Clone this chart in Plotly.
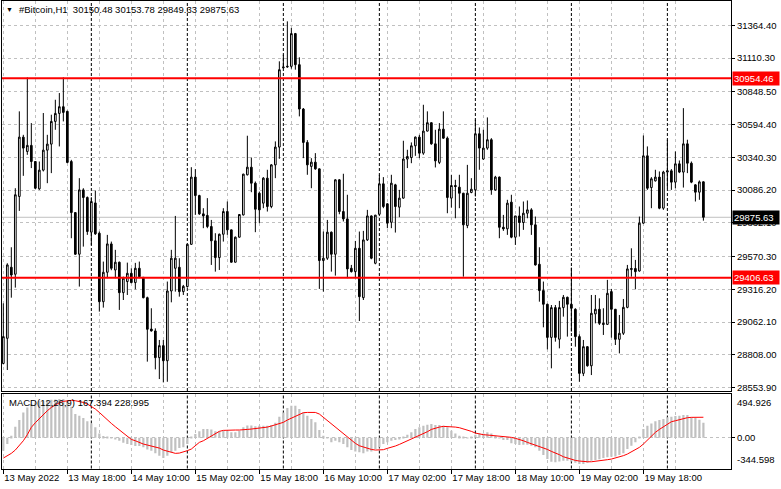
import plotly.graph_objects as go
import pandas as pd

symbol = "#Bitcoin,H1"
first_bar = "2022-05-13 02:00"

opens = [28742, 28937, 29488, 29434, 30037, 30497, 30386, 30433, 30308, 30096,
         30241, 30396, 30443, 30619, 30681, 30733, 30697, 30308, 29912, 29589,
         30088, 30029, 29760, 29987, 29752, 29221, 29449, 29669, 29467, 29527,
         29291, 29377, 29441, 29369, 29480, 29410, 29252, 29009, 28994, 28787,
         28880, 28763, 29304, 29480, 29488, 29299, 29338, 29666, 30187, 30044,
         29902, 29890, 29804, 29693, 29563, 29744, 29920, 29778, 29527, 29721,
         29894, 30205, 30264, 30140, 30062, 29985, 30179, 29959, 30282, 30420,
         31035, 31041, 31046, 31300, 31059, 30715, 30456, 30270, 30303, 30251,
         29540, 29558, 29760, 29589, 30166, 29920, 29863, 29480, 29454, 29635,
         29252, 29700, 29886, 29519, 29899, 30135, 29980, 29837, 30127, 29954,
         30024, 30327, 30339, 30430, 30497, 30373, 30544, 30609, 30445, 30301,
         30559, 30489, 30024, 30122, 30109, 30062, 29811, 30068, 30088, 30523,
         30327, 30412, 30477, 30088, 30187, 29798, 29786, 29993, 29721, 29886,
         29835, 29907, 29933, 29817, 29511, 29307, 29201, 28944, 29175, 28930,
         29175, 29255, 29201, 29162, 28950, 28665, 28872, 28724, 29126, 29162,
         29053, 29045, 29299, 29162, 28929, 28976, 29177, 29470, 29478, 29459,
         29830, 30352, 30106, 30158, 30187, 29946, 30226, 30236, 30148, 30290,
         30226, 30445, 30295, 30127, 30070, 30150.48]
highs = [29208, 29519, 29643, 30101, 30697, 30515, 30960, 30606, 30310, 30308,
         30684, 30515, 30671, 30787, 30839, 30960, 30702, 30321, 29915, 30179,
         30101, 30037, 30031, 30083, 29765, 29532, 29739, 29687, 29623, 29532,
         29415, 29524, 29480, 29522, 29532, 29412, 29260, 29170, 29014, 28924,
         28924, 29377, 29623, 29886, 29558, 29351, 29669, 30264, 30249, 30050,
         29946, 30024, 29855, 29752, 29749, 29946, 29998, 29780, 29726, 29899,
         30213, 30508, 30339, 30153, 30075, 30187, 30244, 30288, 30464, 31085,
         31136, 31395, 31344, 31305, 31116, 30723, 30474, 30334, 30373, 30254,
         29765, 29855, 29765, 30171, 30171, 30213, 30050, 29506, 29692, 29765,
         29770, 29933, 29890, 29894, 30205, 30187, 29985, 30205, 30135, 30088,
         30469, 30399, 30456, 30502, 30515, 30748, 30697, 30612, 30554, 30606,
         30697, 30502, 30205, 30166, 30205, 30065, 30282, 30179, 30632, 30572,
         30554, 30650, 30489, 30197, 30192, 29894, 30011, 30050, 29886, 29959,
         29998, 30006, 29946, 29881, 29643, 29377, 29205, 29195, 29195, 29227,
         29273, 29260, 29485, 29170, 28968, 28924, 28875, 29273, 29273, 29247,
         29170, 29390, 29320, 29165, 29118, 29242, 29506, 29635, 29545, 29881,
         30510, 30425, 30187, 30244, 30231, 30236, 30477, 30249, 30386, 30316,
         30722, 30477, 30308, 30132, 30161, 30153.78]
lows = [28735, 28691, 29252, 29330, 29925, 30197, 30360, 30257, 30096, 30088,
        30231, 30140, 30218, 30554, 30425, 30619, 30295, 29713, 29584, 29338,
        29648, 29739, 29661, 29739, 29144, 29175, 29403, 29465, 29403, 29157,
        29234, 29273, 29364, 29317, 29403, 29247, 28756, 28989, 28696, 28621,
        28595, 28600, 29216, 29299, 29260, 29273, 29330, 29661, 29894, 29894,
        29791, 29791, 29506, 29454, 29467, 29687, 29739, 29525, 29525, 29718,
        29889, 30200, 30070, 29760, 29830, 29946, 29920, 29946, 30179, 30329,
        31030, 31035, 31028, 31020, 30658, 30334, 30205, 30101, 30244, 29320,
        29299, 29545, 29454, 29423, 29899, 29843, 29403, 29447, 29403, 29071,
        29234, 29692, 29550, 29511, 29894, 29946, 29791, 29791, 29757, 29876,
        30020, 30257, 30295, 30352, 30334, 30360, 30541, 30438, 30262, 30288,
        30484, 29907, 29951, 29868, 29946, 29415, 29791, 30062, 30037, 30244,
        30321, 30399, 30050, 30081, 29713, 29770, 29739, 29713, 29661, 29726,
        29778, 29868, 29739, 29501, 29221, 29022, 28851, 28704, 28911, 28859,
        29105, 28950, 28989, 28872, 28600, 28644, 28717, 28652, 29053, 29040,
        28963, 29040, 28942, 28885, 28820, 28963, 29170, 29415, 29317, 29454,
        29825, 30088, 29946, 30153, 29938, 29933, 30101, 30088, 30101, 30218,
        30106, 30218, 30140, 29998, 30011, 29849.33]
closes = [28950, 29506, 29428, 30050, 30497, 30412, 30433, 30308, 30101, 30241,
          30396, 30443, 30619, 30681, 30733, 30689, 30301, 29912, 29589, 30088,
          30029, 29765, 29998, 29747, 29221, 29449, 29669, 29480, 29527, 29291,
          29403, 29441, 29369, 29480, 29415, 29252, 29007, 28994, 28787, 28880,
          28763, 29304, 29558, 29558, 29299, 29340, 29666, 30187, 30044, 29902,
          29886, 29804, 29693, 29563, 29744, 29920, 29778, 29527, 29721, 29897,
          30210, 30264, 30140, 29938, 29933, 30179, 29959, 30282, 30420, 31020,
          31041, 31046, 31300, 31059, 30715, 30456, 30282, 30303, 30251, 29540,
          29558, 29760, 29589, 30166, 29920, 29863, 29475, 29454, 29635, 29260,
          29700, 29886, 29558, 29892, 30135, 29959, 29830, 30140, 29959, 30024,
          30327, 30347, 30430, 30497, 30373, 30544, 30609, 30445, 30313, 30559,
          30489, 30029, 30122, 30114, 30062, 29817, 30062, 30093, 30523, 30412,
          30412, 30477, 30088, 30187, 29798, 29786, 29985, 29721, 29886, 29835,
          29907, 29933, 29817, 29506, 29307, 29201, 28944, 29175, 28944, 29175,
          29255, 29201, 29170, 28950, 28665, 28872, 28724, 29131, 29162, 29053,
          29045, 29286, 29162, 28929, 28976, 29177, 29475, 29478, 29454, 29830,
          30352, 30101, 30174, 30187, 29946, 30226, 30236, 30148, 30290, 30226,
          30445, 30295, 30148, 30070, 30150, 29875.63]

macd_main = [-145, -71, 22, 123, 198, 283, 339, 377, 395, 407,
             414, 421, 425, 429, 433, 433, 407, 347, 265, 246,
             220, 183, 160, 116, 48, 19, 11, -7, -19, -34,
             -56, -71, -82, -93, -93, -108, -131, -145, -175, -201,
             -228, -201, -164, -145, -116, -108, -71, 11, 41, 71,
             97, 97, 93, 71, 71, 78, 78, 60, 60, 78,
             116, 138, 138, 127, 134, 134, 134, 142, 168, 235,
             283, 332, 358, 358, 321, 283, 246, 209, 172, 86,
             22, -7, -52, -34, -52, -71, -108, -138, -153, -164,
             -175, -153, -153, -127, -108, -71, -52, -34, -26, -15,
             11, 34, 60, 97, 116, 134, 145, 153, 142, 142,
             134, 116, 78, 48, 22, 4, -7, 4, 34, 48,
             48, 60, 48, 22, -7, -26, -26, -63, -71, -82,
             -78, -78, -90, -108, -145, -194, -239, -269, -276, -265,
             -257, -257, -265, -280, -295, -295, -280, -257, -250, -242,
             -228, -220, -213, -209, -194, -175, -127, -90, -52, 4,
             97, 134, 160, 183, 198, 209, 228, 235, 242, 246,
             254, 254, 228, 220, 201, 167.394]
macd_signal = [-228, -205, -175, -138, -90, -34, 34, 116, 168, 216,
               265, 302, 339, 369, 392, 407, 414, 418, 414, 407,
               395, 377, 351, 321, 283, 239, 198, 160, 123, 90,
               48, 19, -19, -34, -56, -71, -82, -93, -101, -116,
               -138, -153, -168, -175, -172, -160, -145, -127, -90, -52,
               -34, -7, 19, 48, 71, 82, 86, 86, 86, 86,
               86, 93, 97, 101, 104, 112, 119, 131, 142, 157,
               172, 198, 220, 242, 265, 280, 283, 283, 283, 265,
               228, 190, 153, 116, 78, 41, 4, -34, -63, -90,
               -104, -119, -131, -138, -138, -134, -119, -108, -93, -75,
               -56, -37, -15, 4, 26, 48, 67, 93, 108, 119,
               127, 127, 127, 119, 112, 101, 86, 71, 52, 41,
               34, 30, 26, 22, 19, 15, 15, 4, -7, -19,
               -34, -52, -67, -78, -97, -108, -131, -153, -168, -190,
               -213, -228, -239, -254, -261, -269, -269, -269, -265, -261,
               -254, -246, -239, -228, -213, -201, -183, -160, -138, -108,
               -71, -26, 19, 60, 93, 123, 153, 179, 190, 201,
               216, 224, 228, 228, 224, 228.995]

time_labels = ["13 May 2022", "13 May 18:00", "14 May 10:00", "15 May 02:00",
               "15 May 18:00", "16 May 10:00", "17 May 02:00", "17 May 18:00",
               "18 May 10:00", "19 May 02:00", "19 May 18:00"]
price_ticks = [28553.90, 28808.00, 29062.10, 29316.20, 29570.30, 29832.10,
               30086.20, 30340.30, 30594.40, 30848.50, 31110.30, 31364.40]
levels = [30954.46, 29406.63]
macd_min, macd_max = -344.598, 494.926

# ---------------------------------------------------------------- layout geometry
W, H = 781, 489
def px(x):
    return x / W
def py(y):
    return 1 - y / H

times = pd.date_range(first_bar, periods=len(opens), freq="h")
hour = pd.Timedelta(hours=1)
x_range = [times[0] - 0.33 * hour, times[-1] + 6.9 * hour]
major = list(times[::16])
minor = list(times[8::16])
separators = [t for t in times if t.hour == 0]

GRID = "#c0c0c0"
FONT = "Liberation Sans, Arial, sans-serif"

fig = go.Figure()
fig.add_trace(go.Candlestick(
    x=times, open=opens, high=highs, low=lows, close=closes,
    increasing=dict(line=dict(color="black", width=1), fillcolor="white"),
    decreasing=dict(line=dict(color="black", width=1), fillcolor="black"),
    whiskerwidth=0, hoverinfo="skip", xaxis="x", yaxis="y"))
fig.add_trace(go.Bar(
    x=times, y=macd_main, width=0.55 * 3600 * 1000,
    marker=dict(color="#c0c0c0", line=dict(width=0)),
    hoverinfo="skip", xaxis="x2", yaxis="y2"))
fig.add_trace(go.Scatter(
    x=times, y=macd_signal, mode="lines",
    line=dict(color="red", width=1), hoverinfo="skip", xaxis="x2", yaxis="y2"))

xcommon = dict(
    domain=[px(2), px(731)], range=x_range, tickvals=major,
    showgrid=True, gridcolor=GRID, griddash="3px,3px", gridwidth=1,
    minor=dict(tickvals=minor, showgrid=True, gridcolor=GRID,
               griddash="3px,3px", gridwidth=1, ticks=""),
    showline=True, linecolor="black", linewidth=1, mirror=True,
    zeroline=False, fixedrange=True, automargin=False, tickangle=0)

ycommon = dict(side="right", ticks="outside", ticklen=3, tickcolor="black",
               showgrid=True, gridcolor=GRID, griddash="3px,3px",
               showline=True, linecolor="black", mirror=True,
               zeroline=False, fixedrange=True, automargin=False)

fig.update_layout(
    template="none",
    width=W, height=H,
    margin=dict(l=0, r=0, t=0, b=0, pad=0, autoexpand=False),
    paper_bgcolor="white", plot_bgcolor="white",
    showlegend=False, hovermode=False, boxgap=0.4,
    font=dict(family=FONT, size=9.5, color="black"),
    xaxis=dict(**xcommon, anchor="y", showticklabels=False, ticks="",
               rangeslider=dict(visible=False)),
    xaxis2=dict(**xcommon, anchor="y2", matches="x", ticktext=time_labels,
                ticks="outside", ticklen=4, tickcolor="black",
                ticklabelposition="outside right"),
    yaxis=dict(**ycommon, domain=[py(391), py(1)], range=[28528.3, 31552.8],
               anchor="x", tickvals=price_ticks,
               ticktext=[f"{v:.2f}" for v in price_ticks]),
    yaxis2=dict(**ycommon, domain=[py(468.5), py(393.5)], range=[macd_min, macd_max],
                anchor="x2", tickvals=[0], ticktext=["0.00"]),
)

shapes = []
for t in separators:
    for xr, yr in (("x", "y domain"), ("x2", "y2 domain")):
        shapes.append(dict(type="line", xref=xr, yref=yr, x0=t, x1=t, y0=0, y1=1,
                           line=dict(color="black", width=1, dash="3px,2px"),
                           layer="below"))
shapes.append(dict(type="line", xref="x domain", yref="y", x0=0, x1=1,
                   y0=closes[-1], y1=closes[-1],
                   line=dict(color="#c0c0c0", width=1), layer="below"))
for lv in levels:
    shapes.append(dict(type="line", xref="x domain", yref="y", x0=0, x1=1,
                       y0=lv, y1=lv, line=dict(color="red", width=2), layer="above"))
fig.update_layout(shapes=shapes)

ann = []
ann.append(dict(xref="paper", yref="paper", x=px(9.5), y=py(10), text="▼",
                showarrow=False, font=dict(size=7), xanchor="center", yanchor="middle"))
ann.append(dict(xref="paper", yref="paper", x=px(17), y=py(10),
                text=f"{symbol}  {opens[-1]:.2f} {highs[-1]:.2f} {lows[-1]:.2f} {closes[-1]:.2f}",
                showarrow=False, xanchor="left", yanchor="middle"))
ann.append(dict(xref="paper", yref="paper", x=px(7), y=py(402),
                text=f"MACD(12,26,9) {macd_main[-1]:.3f} {macd_signal[-1]:.3f}",
                showarrow=False, xanchor="left", yanchor="middle"))
ann.append(dict(xref="paper", yref="y2 domain", x=px(735), y=1, yshift=-1,
                text=f"{macd_max:.3f}", showarrow=False, xanchor="left", yanchor="top"))
ann.append(dict(xref="paper", yref="y2 domain", x=px(735), y=0, yshift=1,
                text=f"{macd_min:.3f}", showarrow=False, xanchor="left", yanchor="bottom"))
for lv in levels:
    ann.append(dict(xref="paper", yref="y", x=px(732), y=lv, text=f"{lv:.2f}",
                    showarrow=False, xanchor="left", yanchor="middle",
                    bgcolor="red", font=dict(color="white"), width=44,
                    align="left", borderpad=1))
ann.append(dict(xref="paper", yref="y", x=px(732), y=closes[-1], text=f"{closes[-1]:.2f}",
                showarrow=False, xanchor="left", yanchor="middle",
                bgcolor="black", font=dict(color="white"), width=44,
                align="left", borderpad=1))
fig.update_layout(annotations=ann)

fig.write_html("out.html", config={"displayModeBar": False},
               post_script="document.body.style.margin='0';document.body.style.padding='0';")
